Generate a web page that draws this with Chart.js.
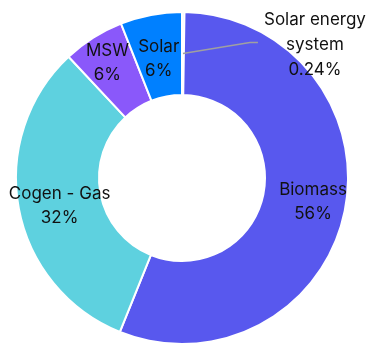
<!DOCTYPE html>
<html>
<head>
<meta charset="utf-8">
<script src="https://cdn.jsdelivr.net/npm/chart.js@4.4.1/dist/chart.umd.min.js"></script>
<style>
  html, body { margin: 0; padding: 0; background: #fff; }
  #wrap { width: 366px; height: 345px; }
</style>
</head>
<body>
<div id="wrap"><canvas id="mix"></canvas></div>
<script>
var sources = ['Solar energy system', 'Biomass', 'Cogen - Gas', 'MSW', 'Solar'];
var shares = [0.24, 56, 32, 6, 6];
var shareLabels = ['0.24%', '56%', '32%', '6%', '6%'];
var colours = ['#cfe6fb', '#5858ee', '#5ed1df', '#8a58fa', '#0080ff'];

// label text + nudges (px) for the ones inside the ring
var nameLines = [['Solar energy', 'system'], ['Biomass'], ['Cogen - Gas'], ['MSW'], ['Solar']];
var nudge = [[0, 0], [9, -1], [0, 5], [-8, -10], [0, 3]];

var sliceLabels = {
    id: 'sliceLabels',
    afterDatasetsDraw: function (chart) {
        var c = chart.ctx;
        var arcs = chart.getDatasetMeta(0).data;
        c.save();
        c.font = '17px Inter, "Noto Sans", sans-serif';
        c.fillStyle = '#111111';
        c.textAlign = 'center';
        c.textBaseline = 'middle';
        arcs.forEach(function (arc, i) {
            var p = arc.tooltipPosition();
            var lines = nameLines[i].concat([shareLabels[i]]);
            if (i === 0) {
                // tiny slice: leader line out to the right
                var lx = p.x + 67, ly = p.y - 11;
                c.strokeStyle = '#a0a0a0';
                c.lineWidth = 1.5;
                c.beginPath();
                c.moveTo(p.x, p.y);
                c.lineTo(lx, ly);
                c.lineTo(lx + 8, ly);
                c.stroke();
                lines.forEach(function (t, k) {
                    c.fillText(t, lx + 65, ly - 23 + k * 25);
                });
                return;
            }
            var x = p.x + nudge[i][0];
            var y = p.y + nudge[i][1] - (lines.length - 1) * 12;
            lines.forEach(function (t, k) {
                c.fillText(t, x, y + k * 24);
            });
        });
        c.restore();
    }
};

var ctx = document.getElementById('mix').getContext('2d');
var mixChart = new Chart(ctx, {
    type: 'doughnut',
    data: {
        labels: sources,
        datasets: [{
            data: shares,
            backgroundColor: colours,
            borderColor: '#ffffff',
            borderWidth: 2
        }]
    },
    options: {
        responsive: true,
        maintainAspectRatio: false,
        animation: false,
        cutout: '50%',
        layout: { padding: { top: 11, bottom: 0, left: 0, right: 2 } },
        plugins: {
            legend: { display: false },
            tooltip: { enabled: false }
        }
    },
    plugins: [sliceLabels]
});
</script>
</body>
</html>
